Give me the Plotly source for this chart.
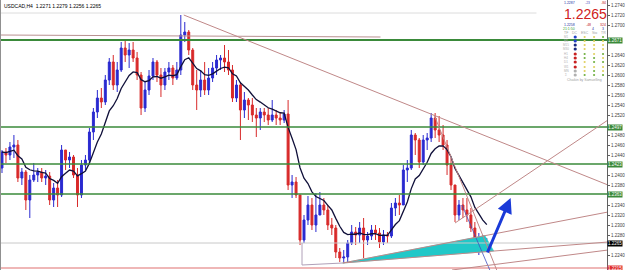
import plotly.graph_objects as go
import pandas as pd

# ---------------- data (USDCAD H4) ----------------
first_open = 1.2415
high = [1.2451,1.2455,1.2467,1.2481,1.2471,1.2415,1.2411,1.2401,1.2425,1.2415,
        1.2415,1.2411,1.2407,1.2385,1.2391,1.2461,1.2451,1.2447,1.2441,1.2415,
        1.2431,1.2441,1.2495,1.2535,1.2571,1.2575,1.2601,1.2635,1.2641,1.2627,
        1.2667,1.2671,1.2665,1.2667,1.2647,1.2607,1.2587,1.2611,1.2635,1.2631,
        1.2615,1.2615,1.2627,1.2621,1.2627,1.2721,1.2707,1.2691,1.2655,1.2611,
        1.2611,1.2627,1.2615,1.2627,1.2641,1.2641,1.2661,1.2651,1.2621,1.2591,
        1.2587,1.2567,1.2555,1.2555,1.2535,1.2535,1.2535,1.2535,1.2551,1.2531,
        1.2527,1.2531,1.2551,1.2401,1.2397,1.2361,1.2321,1.2359,1.2355,1.2365,
        1.2367,1.2355,1.2341,1.2315,1.2301,1.2255,1.2251,1.2271,1.2301,1.2297,
        1.2307,1.2315,1.2287,1.2301,1.2301,1.2295,1.2291,1.2287,1.2345,1.2355,
        1.2361,1.2421,1.2431,1.2491,1.2485,1.2475,1.2481,1.2485,1.2525,1.2525,
        1.2519,1.2501,1.2471,1.2435,1.2381,1.2351,1.2355,1.2355,1.2335,1.2307,
        1.2285,1.2281,1.2275]
low = [1.2405,1.2425,1.2431,1.2435,1.2387,1.2381,1.2331,1.2315,1.2387,1.2387,
       1.2387,1.2381,1.2341,1.2337,1.2337,1.2357,1.2411,1.2415,1.2395,1.2337,
       1.2355,1.2411,1.2421,1.2471,1.2515,1.2535,1.2541,1.2581,1.2571,1.2567,
       1.2607,1.2627,1.2615,1.2627,1.2591,1.2521,1.2527,1.2561,1.2591,1.2587,
       1.2557,1.2571,1.2591,1.2581,1.2591,1.2601,1.2667,1.2641,1.2571,1.2531,
       1.2557,1.2561,1.2561,1.2587,1.2601,1.2611,1.2607,1.2601,1.2547,1.2547,
       1.2471,1.2515,1.2511,1.2507,1.2477,1.2491,1.2507,1.2501,1.2507,1.2501,
       1.2501,1.2505,1.2371,1.2355,1.2355,1.2261,1.2265,1.2301,1.2291,1.2287,
       1.2321,1.2321,1.2291,1.2281,1.2235,1.2227,1.2225,1.2227,1.2261,1.2261,
       1.2265,1.2235,1.2261,1.2271,1.2271,1.2255,1.2261,1.2265,1.2275,1.2319,
       1.2321,1.2351,1.2387,1.2411,1.2441,1.2415,1.2421,1.2451,1.2467,1.2475,
       1.2467,1.2451,1.2401,1.2371,1.2307,1.2311,1.2315,1.2307,1.2287,1.2247,
       1.2241,1.2251,1.2251]
close = [1.2447,1.2441,1.2457,1.2461,1.2395,1.2407,1.2351,1.2391,1.2401,1.2407,
         1.2395,1.2399,1.2351,1.2375,1.2361,1.2451,1.2431,1.2437,1.2401,1.2361,
         1.2421,1.2431,1.2487,1.2527,1.2555,1.2547,1.2591,1.2627,1.2581,1.2611,
         1.2655,1.2641,1.2651,1.2635,1.2601,1.2535,1.2571,1.2599,1.2627,1.2601,
         1.2581,1.2607,1.2615,1.2595,1.2611,1.2681,1.2687,1.2651,1.2581,1.2571,
         1.2591,1.2571,1.2595,1.2615,1.2631,1.2635,1.2627,1.2611,1.2555,1.2581,
         1.2531,1.2551,1.2541,1.2521,1.2515,1.2527,1.2521,1.2511,1.2521,1.2515,
         1.2511,1.2523,1.2381,1.2387,1.2361,1.2271,1.2311,1.2341,1.2301,1.2321,
         1.2341,1.2331,1.2301,1.2295,1.2247,1.2235,1.2237,1.2265,1.2287,1.2281,
         1.2295,1.2271,1.2279,1.2291,1.2285,1.2267,1.2281,1.2279,1.2335,1.2345,
         1.2341,1.2411,1.2415,1.2481,1.2471,1.2427,1.2471,1.2475,1.2515,1.2491,
         1.2481,1.2461,1.2421,1.2381,1.2321,1.2341,1.2331,1.2321,1.2295,1.2251,
         1.2275,1.2259,1.2265]

levels_green = [1.2671, 1.2497, 1.2423, 1.2363]
last_price = 1.2265
bottom_level = 1.2215
all_ticks = [round(1.2220 + 0.0020 * k, 4) for k in range(27)]

# trendlines: (index0, price0, index1, price1, colour, width)
trendlines = [
    (-0.5, 1.2681, 95.25, 1.2677, "#b89090", 1),
    (45.75, 1.2721, 152.5, 1.2381, "#c08888", 1),
    (108.75, 1.2521, 124.5, 1.2211, "#c08888", 1),
    (115.75, 1.2341, 122.75, 1.2211, "#4050c0", 0.8),
    (114.0, 1.2305, 152.5, 1.2511, "#c08888", 1),
    (85.75, 1.2225, 152.5, 1.2327, "#c08888", 1),
    (85.75, 1.2225, 152.5, 1.2267, "#c08888", 1),
    (113.25, 1.2211, 152.5, 1.2251, "#c08888", 1),
    (75.5, 1.2221, 85.75, 1.2225, "#b0a0b8", 1),
    (75.5, 1.2265, 75.5, 1.2221, "#b0a0b8", 1),
]
wedge_x = [85.75, 121.5, 123.75, 85.75]
wedge_y = [1.2225, 1.2280, 1.2249, 1.2225]
arrow = (122.0, 1.2243, 128.0, 1.2355)

boxed = levels_green + [last_price, bottom_level]
tick_vals = [t for t in all_ticks if all(abs(t - b) > 0.0013 for b in boxed)]

opens = [first_open] + close[:-1]
idx = list(range(len(close)))
ma = pd.Series(close).ewm(span=9, adjust=False).mean()

W, H = 625, 270
ML, MR = 0, 14
PW = W - ML - MR

def px(x):
    return x / PW

def py(y):
    return 1 - y / H

fig = go.Figure()

fig.add_trace(go.Scatter(x=wedge_x, y=wedge_y, fill="toself", mode="lines",
                         line=dict(color="#20c8c8", width=0.5),
                         fillcolor="#20c8c8", hoverinfo="skip", showlegend=False))

fig.add_trace(go.Candlestick(
    x=idx, open=opens, high=high, low=low, close=close,
    increasing=dict(line=dict(color="#2a2ad0", width=1), fillcolor="#2a2ad0"),
    decreasing=dict(line=dict(color="#d82a2a", width=1), fillcolor="#d82a2a"),
    whiskerwidth=0, showlegend=False))

fig.add_trace(go.Scatter(x=idx, y=ma, mode="lines",
                         line=dict(color="#10103a", width=1.3),
                         hoverinfo="skip", showlegend=False))

shapes = []
shapes.append(dict(type="line", xref="paper", yref="paper", x0=0, x1=px(540),
                   y0=py(13), y1=py(13), line=dict(color="#dcdcdc", width=1)))
for lv in levels_green:
    shapes.append(dict(type="line", xref="paper", yref="y", x0=0, x1=1, y0=lv, y1=lv,
                       line=dict(color="#3a8a3a", width=2 if lv == levels_green[0] else 1.6)))
shapes.append(dict(type="line", xref="paper", yref="y", x0=0, x1=1, y0=last_price,
                   y1=last_price, line=dict(color="#c8c8c8", width=1)))
shapes.append(dict(type="line", xref="paper", yref="y", x0=0, x1=1, y0=bottom_level,
                   y1=bottom_level, line=dict(color="#e07070", width=1.2)))
for (a0, p0, a1, p1, col, wd) in trendlines:
    shapes.append(dict(type="line", xref="x", yref="y", x0=a0, x1=a1, y0=p0, y1=p1,
                       line=dict(color=col, width=wd)))
shapes.append(dict(type="line", xref="paper", yref="paper", x0=0, x1=0, y0=0, y1=1,
                   line=dict(color="#909090", width=2)))

# info panel dots
rows_y = [37, 41, 45, 49, 54, 58, 62, 67, 71, 75]
dc_cols = ["#2040c8", "#2040c8", "#1a2a80", "#1a2a80", "#c82020", "#c82020",
           "#c82020", "#c82020", "#b0b0b0", "#b0b0b0"]
esc_cols = ["#e0d060", "#e0d060", "#e0d060", "#e0d060", "#70b040", "#70b040",
            "#e0d060", "#e0d060", "#e0d060", "#70b040"]
sto_cols = ["#e0d060", "#e0d060", "#e0d060", "#e0d060", "#e0d060", "#70b040",
            "#70b040", "#e0d060", "#70b040", "#70b040"]
tr_cols = ["#70b040", "#e0d060", "#e0d060", "#e0d060", "#70b040", "#e0d060",
           "#70b040", "#e0d060", "#e0d060", "#70b040"]
for ry, c1, c2, c3, c4 in zip(rows_y, dc_cols, esc_cols, sto_cols, tr_cols):
    for cx, col, r in ((579, c1, 1.6), (588.5, c2, 1.1), (598, c3, 1.1), (607, c4, 1.1)):
        shapes.append(dict(type="circle", xref="paper", yref="paper",
                           x0=px(cx - r), x1=px(cx + r), y0=py(ry + r), y1=py(ry - r),
                           fillcolor=col, line=dict(width=0)))
fig.update_layout(shapes=shapes)

ann = []
ann.append(dict(xref="paper", yref="paper", x=px(2), y=py(1), xanchor="left", yanchor="top",
                text="USDCAD,H4  1.2271 1.2279 1.2256 1.2265", showarrow=False,
                font=dict(size=5, color="#000000", family="Liberation Sans")))
ann.append(dict(xref="paper", yref="paper", x=px(589), y=py(14.5), xanchor="center",
                yanchor="middle", text="1.2265", showarrow=False, borderpad=0,
                font=dict(size=14, color="#d02020", family="Liberation Sans")))
small = [(573, 3.5, "1.2287", "#2030a0"), (591, 3.5, "-23", "#5050c0"), (607, 3.5, "-84", "#c02020"),
         (573, 25, "1.2258", "#2030a0"), (592, 25, "-48", "#c02020"), (607, 25, "324", "#c02020"),
         (573, 29, "21:1:50", "#30a030"), (597, 29, "4", "#2030a0"), (607, 29, "3", "#2030a0"),
         (570, 33, "TF", "#a0a0a0"), (579, 33, "DC", "#a0a0a0"), (588.5, 33, "ESC", "#a0a0a0"),
         (598, 33, "Sto", "#a0a0a0"), (607, 33, "TR", "#a0a0a0"),
         (588, 79.5, "Chaikin by Samuelling", "#a0a0a0")]
for sx, sy, st, sc in small:
    ann.append(dict(xref="paper", yref="paper", x=px(sx), y=py(sy), xanchor="center",
                    yanchor="middle", text=st, showarrow=False, borderpad=0,
                    font=dict(size=3.5, color=sc, family="Liberation Sans")))
tfs = ["M1", "M5", "M15", "M30", "H1", "H4", "D1", "W1", "MN", "Σ"]
for ry, t in zip(rows_y, tfs):
    ann.append(dict(xref="paper", yref="paper", x=px(570), y=py(ry), xanchor="center",
                    yanchor="middle", text=t, showarrow=False, borderpad=0,
                    font=dict(size=3, color="#b0b0b0", family="Liberation Sans")))

for lv in levels_green:
    ann.append(dict(xref="paper", yref="y", x=1, y=lv, xanchor="left", yanchor="middle",
                    text=f"{lv:.4f}", showarrow=False, bgcolor="#3a8a3a", borderpad=0,
                    font=dict(size=4.5, color="#ffffff", family="Liberation Sans")))
ann.append(dict(xref="paper", yref="y", x=1, y=last_price, xanchor="left", yanchor="middle",
                text=f"{last_price:.4f}", showarrow=False, bgcolor="#000000", borderpad=0,
                font=dict(size=4.5, color="#ffffff", family="Liberation Sans")))
ann.append(dict(xref="paper", yref="y", x=1, y=bottom_level, xanchor="left", yanchor="middle",
                text=f"{bottom_level:.4f}", showarrow=False, bgcolor="#e03030", borderpad=0,
                font=dict(size=4.5, color="#ffffff", family="Liberation Sans")))

ann.append(dict(xref="x", yref="y", axref="x", ayref="y", x=arrow[2], y=arrow[3],
                ax=arrow[0], ay=arrow[1], showarrow=True, arrowhead=2, arrowsize=1,
                arrowwidth=3, arrowcolor="#1a3ad8", text=""))
fig.update_layout(annotations=ann)

fig.update_layout(
    width=W, height=H, margin=dict(l=ML, r=MR, t=0, b=0),
    paper_bgcolor="#ffffff", plot_bgcolor="#ffffff", showlegend=False,
    xaxis=dict(range=[-0.5, 152.25], visible=False, rangeslider=dict(visible=False),
               fixedrange=True),
    yaxis=dict(range=[1.2211, 1.2751], side="right", tickvals=tick_vals, tickformat=".4f",
               tickfont=dict(size=4.5, color="#404040", family="Liberation Sans"),
               showgrid=False, zeroline=False, showline=True, linecolor="#606060",
               linewidth=1, ticks="outside", ticklen=2, tickcolor="#606060"),
)

fig.write_html("out.html")
